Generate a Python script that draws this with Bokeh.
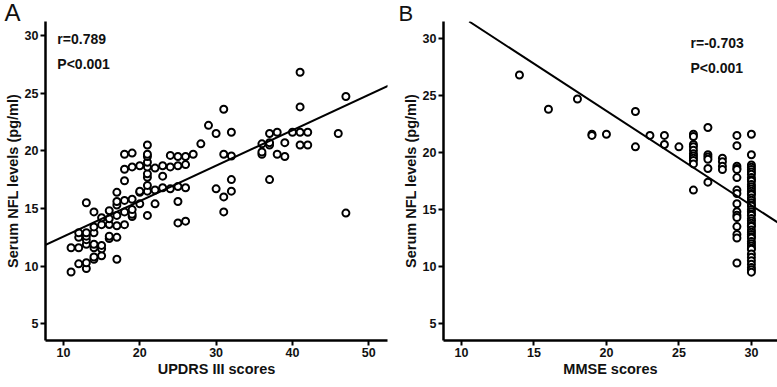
from bokeh.plotting import figure
from bokeh.models import Range1d, FixedTicker, Slope, Label
from bokeh.layouts import row
from bokeh.embed import file_html
from bokeh.resources import INLINE

# ---------------- Panel A: UPDRS III vs serum NFL ----------------
updrs_cols = {
    11: [9.5, 11.6],
    12: [10.2, 11.6, 12.5, 12.9],
    13: [9.8, 10.3, 11.9, 12.3, 12.6, 12.9, 15.5],
    14: [10.6, 10.8, 11.6, 11.9, 12.9, 13.4, 14.7],
    15: [10.9, 11.5, 11.8, 13.6, 14.2],
    16: [12.4, 12.6, 13.6, 14.1, 14.8],
    17: [10.6, 12.5, 13.5, 14.4, 15.3, 15.6, 16.4],
    18: [13.6, 14.7, 15.7, 17.4, 18.4, 19.7],
    19: [14.3, 14.5, 14.9, 15.8, 18.6, 19.8],
    20: [15.4, 16.4, 16.5, 18.7],
    21: [14.4, 16.5, 17.0, 17.7, 18.0, 18.6, 19.0, 19.5, 19.7, 20.5],
    22: [15.4, 16.6, 18.5],
    23: [16.8, 17.8, 18.7],
    24: [16.7, 18.6, 19.6],
    25: [13.75, 15.6, 16.9, 18.7, 19.5],
    26: [13.9, 16.8, 18.8, 19.5],
    27: [19.7],
    28: [20.6],
    29: [22.2],
    30: [16.7, 21.5],
    31: [14.7, 16.0, 19.7, 23.6],
    32: [16.5, 17.5, 19.55, 21.6],
    36: [19.7, 19.9, 20.6],
    37: [17.5, 20.5, 20.7, 21.5],
    38: [19.7, 21.6],
    39: [19.5, 20.7],
    40: [21.6],
    41: [20.5, 21.6, 23.8, 26.8],
    42: [20.5, 21.6],
    46: [21.5],
    47: [14.6, 24.7],
}
updrs_x = [x for x, ys in updrs_cols.items() for _ in ys]
updrs_y = [y for ys in updrs_cols.values() for y in ys]
fit_a = {"intercept": 9.5, "slope": 0.307}
stats_a = ["r=0.789", "P<0.001"]
xticks_a = [10, 20, 30, 40, 50]

# ---------------- Panel B: MMSE vs serum NFL ----------------
mmse_cols = {
    14: [26.8],
    16: [23.8],
    18: [24.7],
    19: [21.6, 21.5],
    20: [21.6],
    22: [23.6, 20.5],
    23: [21.5],
    24: [21.5, 20.7],
    25: [20.5],
    26: [21.6, 21.4, 20.7, 20.5, 20.2, 19.9, 19.7, 19.5, 19.3, 19.0, 16.7],
    27: [22.2, 19.8, 19.6, 19.4, 18.6, 17.4],
    28: [19.5, 19.2, 18.8, 18.5],
    29: [21.5, 20.6, 18.8, 18.6, 18.5, 17.8, 16.7, 16.4, 15.5, 14.8, 14.5,
         14.3, 13.5, 12.8, 12.5, 10.3],
    30: [21.6, 19.8, 18.9, 18.7, 18.5, 18.3, 18.1, 17.8, 17.6, 17.5, 17.2,
         17.0, 16.8, 16.6, 16.4, 16.3, 16.0, 15.8, 15.6, 15.4, 15.3, 15.0,
         14.8, 14.6, 14.5, 14.2, 14.0, 13.8, 13.6, 13.5, 13.2, 13.0, 12.8,
         12.6, 12.5, 12.2, 12.0, 11.8, 11.6, 11.5, 11.1, 10.8, 10.5, 10.2,
         9.9, 9.7, 9.5],
}
mmse_x = [x for x, ys in mmse_cols.items() for _ in ys]
mmse_y = [y for ys in mmse_cols.values() for y in ys]
fit_b = {"intercept": 40.23, "slope": -0.829}
stats_b = ["r=-0.703", "P<0.001"]
xticks_b = [10, 15, 20, 25, 30]

yticks = [5, 10, 15, 20, 25, 30]
ylabel = "Serum NFL levels (pg/ml)"

FONT = "Liberation Sans"
INK = "#111111"


def style(p, xticks, xlabel, letter, letter_offset, letter_size):
    p.xgrid.visible = False
    p.ygrid.visible = False
    p.outline_line_color = None
    p.background_fill_color = "white"
    p.border_fill_color = "white"
    p.xaxis.ticker = FixedTicker(ticks=xticks)
    p.yaxis.ticker = FixedTicker(ticks=yticks)
    p.xaxis.axis_label = xlabel
    p.yaxis.axis_label = ylabel
    for ax in (p.xaxis[0], p.yaxis[0]):
        ax.axis_line_width = 2.5
        ax.axis_line_color = "black"
        ax.major_tick_line_width = 2
        ax.major_tick_line_color = "black"
        ax.major_tick_out = 5
        ax.major_tick_in = 0
        ax.minor_tick_line_color = None
        ax.major_label_text_font = FONT
        ax.major_label_text_font_style = "bold"
        ax.major_label_text_font_size = "12.5px"
        ax.major_label_text_color = INK
        ax.major_label_standoff = 2
        ax.axis_label_text_font = FONT
        ax.axis_label_text_font_style = "bold"
        ax.axis_label_text_font_size = "14.5px"
        ax.axis_label_text_color = INK
        ax.axis_label_standoff = 1
    p.title.text = letter
    p.title.align = "left"
    p.title.offset = letter_offset
    p.title.standoff = -8
    p.title.text_font = FONT
    p.title.text_font_style = "normal"
    p.title.text_font_size = letter_size
    p.title.text_color = INK


def stat_label(x, y, text):
    return Label(x=x, y=y, text=text, text_font=FONT, text_font_style="bold",
                 text_font_size="14px", text_baseline="middle",
                 text_color=INK)


# Panel A figure
pA = figure(width=398, height=387, output_backend="svg", toolbar_location=None,
            x_range=Range1d(7.65, 52.45), y_range=Range1d(3.56, 31.2),
            min_border_left=45, min_border_right=11, min_border_top=20,
            min_border_bottom=45)
style(pA, xticks_a, "UPDRS III scores", "A", -41, "24px")
pA.scatter(updrs_x, updrs_y, marker="circle", size=7, fill_color="white",
           line_color="black", line_width=2)
pA.add_layout(Slope(gradient=fit_a["slope"], y_intercept=fit_a["intercept"],
                    line_color="black", line_width=2))
pA.add_layout(stat_label(9.2, 29.66, stats_a[0]))
pA.add_layout(stat_label(9.2, 27.5, stats_a[1]))

# Panel B figure
pB = figure(width=379, height=387, output_backend="svg", toolbar_location=None,
            x_range=Range1d(8.76, 31.8), y_range=Range1d(3.5, 31.5),
            min_border_left=45, min_border_right=0, min_border_top=21,
            min_border_bottom=47)
style(pB, xticks_b, "MMSE scores", "B", -45, "22px")
pB.scatter(mmse_x, mmse_y, marker="circle", size=7, fill_color="white",
           line_color="black", line_width=2)
pB.add_layout(Slope(gradient=fit_b["slope"], y_intercept=fit_b["intercept"],
                    line_color="black", line_width=2))
pB.add_layout(stat_label(25.8, 29.65, stats_b[0]))
pB.add_layout(stat_label(25.8, 27.46, stats_b[1]))

layout = row(pA, pB)
open("out.html", "w").write(file_html(layout, INLINE))
